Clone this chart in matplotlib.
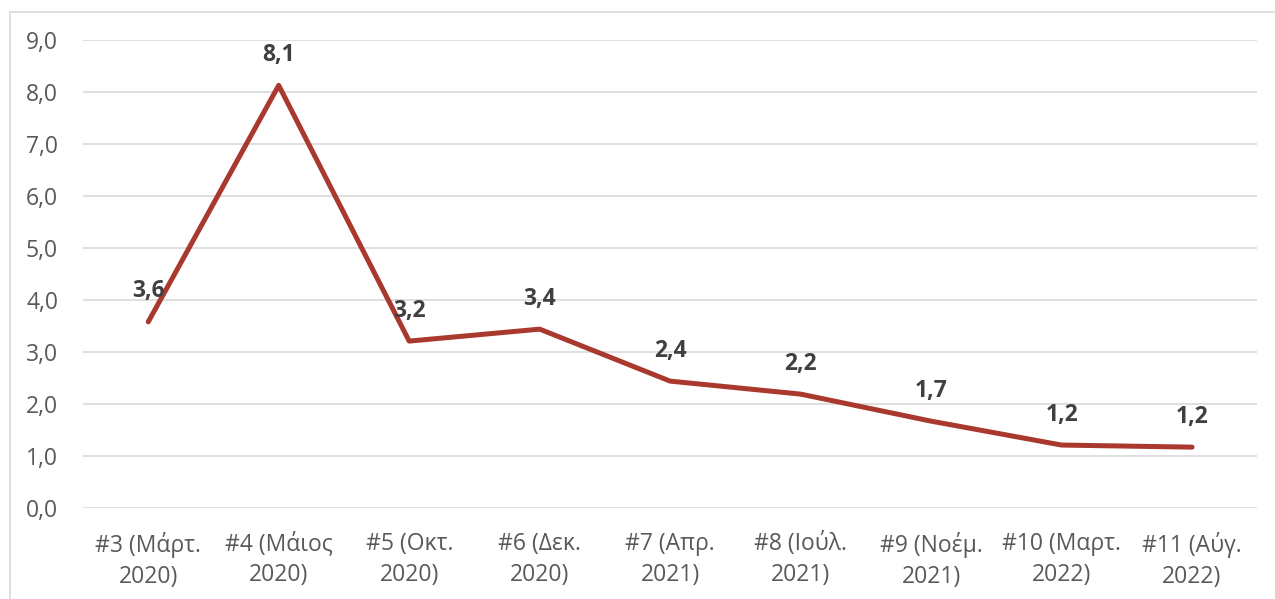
import matplotlib
matplotlib.use("Agg")
import matplotlib.pyplot as plt
from matplotlib.patches import Rectangle

plt.rcParams['font.family'] = ['Open Sans', 'DejaVu Sans']

# dedomena
kymata = ["#3 (Μάρτ.\n2020)", "#4 (Μάιος\n2020)", "#5 (Οκτ.\n2020)", "#6 (Δεκ.\n2020)",
          "#7 (Απρ.\n2021)", "#8 (Ιούλ.\n2021)", "#9 (Νοέμ.\n2021)", "#10 (Μαρτ.\n2022)",
          "#11 (Αύγ.\n2022)"]
times = [3.58, 8.13, 3.21, 3.44, 2.44, 2.19, 1.67, 1.21, 1.17]
etiketes = ["3,6", "8,1", "3,2", "3,4", "2,4", "2,2", "1,7", "1,2", "1,2"]

fig = plt.figure(figsize=(12.75, 5.99), dpi=100)
ax = fig.add_axes([0.0651, 0.152, 0.921, 0.781])

# plaisio gyrw apo to grafima
fig.patches.append(Rectangle((10 / 1275, -0.5), 2, 1.5 - 12 / 599, transform=fig.transFigure,
                             fill=False, edgecolor='#D9D9D9', linewidth=1.2))

x = list(range(len(times)))
ax.plot(x, times, color='#A9392E', linewidth=3.6, solid_capstyle='round', zorder=3)

for xi, yi, t in zip(x, times, etiketes):
    ax.annotate(t, (xi, yi), xytext=(0, 22), textcoords='offset points',
                ha='center', va='center', fontsize=16.5, fontweight='bold', color='#404040')

ax.set_xlim(-0.5, len(times) - 0.5)
ax.set_ylim(0, 9)
ax.set_yticks(range(0, 10))
ax.set_yticklabels([f"{v},0" for v in range(0, 10)])
ax.set_xticks(x)
ax.set_xticklabels(kymata, linespacing=1.4)

ax.grid(axis='y', color='#D9D9D9', linewidth=1.2)
ax.set_axisbelow(True)
for s in ax.spines.values():
    s.set_visible(False)
ax.tick_params(axis='both', length=0, labelsize=16.5, labelcolor='#595959')
ax.tick_params(axis='y', pad=18)
ax.tick_params(axis='x', pad=17)

fig.savefig("out.png", dpi=100)
